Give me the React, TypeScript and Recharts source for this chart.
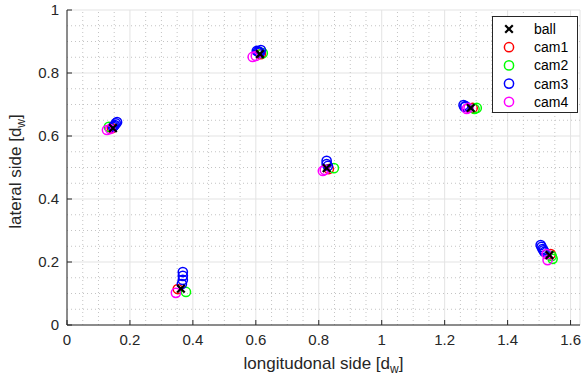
import React from "react"
import { ScatterChart, Scatter, XAxis, YAxis, CartesianGrid, ReferenceLine, Legend } from "recharts"

// positions in units of d_w
const ball = [
  { x: 0.146, y: 0.625 },
  { x: 0.613, y: 0.86 },
  { x: 0.362, y: 0.115 },
  { x: 0.825, y: 0.498 },
  { x: 1.283, y: 0.689 },
  { x: 1.533, y: 0.222 },
]

const cam1 = [
  { x: 0.143, y: 0.625 },
  { x: 0.616, y: 0.86 },
  { x: 0.352, y: 0.114 },
  { x: 0.832, y: 0.495 },
  { x: 1.289, y: 0.689 },
  { x: 1.537, y: 0.225 },
]

const cam2 = [
  { x: 0.133, y: 0.629 },
  { x: 0.622, y: 0.863 },
  { x: 0.378, y: 0.105 },
  { x: 0.848, y: 0.498 },
  { x: 1.302, y: 0.689 },
  { x: 1.295, y: 0.686 },
  { x: 1.54, y: 0.219 },
  { x: 1.543, y: 0.21 },
]

const cam3 = [
  { x: 0.159, y: 0.644 },
  { x: 0.155, y: 0.64 },
  { x: 0.152, y: 0.635 },
  { x: 0.149, y: 0.632 },
  { x: 0.146, y: 0.629 },
  { x: 0.603, y: 0.87 },
  { x: 0.607, y: 0.869 },
  { x: 0.616, y: 0.873 },
  { x: 0.613, y: 0.865 },
  { x: 0.61, y: 0.867 },
  { x: 0.368, y: 0.168 },
  { x: 0.368, y: 0.156 },
  { x: 0.368, y: 0.143 },
  { x: 0.365, y: 0.13 },
  { x: 0.825, y: 0.521 },
  { x: 0.825, y: 0.511 },
  { x: 0.829, y: 0.505 },
  { x: 1.26, y: 0.698 },
  { x: 1.263, y: 0.692 },
  { x: 1.266, y: 0.695 },
  { x: 1.505, y: 0.254 },
  { x: 1.508, y: 0.248 },
  { x: 1.511, y: 0.241 },
  { x: 1.514, y: 0.237 },
  { x: 1.517, y: 0.232 },
]

const cam4 = [
  { x: 0.127, y: 0.619 },
  { x: 0.137, y: 0.622 },
  { x: 0.59, y: 0.851 },
  { x: 0.6, y: 0.854 },
  { x: 0.346, y: 0.102 },
  { x: 0.813, y: 0.489 },
  { x: 0.819, y: 0.492 },
  { x: 1.27, y: 0.686 },
  { x: 1.276, y: 0.689 },
  { x: 1.524, y: 0.225 },
  { x: 1.527, y: 0.206 },
]

const xTicks = [0, 0.2, 0.4, 0.6, 0.8, 1, 1.2, 1.4, 1.6]
const yTicks = [0, 0.2, 0.4, 0.6, 0.8, 1]
const xMinor = [0.05, 0.1, 0.15, 0.25, 0.3, 0.35, 0.45, 0.5, 0.55, 0.65, 0.7, 0.75, 0.85, 0.9, 0.95, 1.05, 1.1, 1.15, 1.25, 1.3, 1.35, 1.45, 1.5, 1.55]
const yMinor = [0.05, 0.1, 0.15, 0.25, 0.3, 0.35, 0.45, 0.5, 0.55, 0.65, 0.7, 0.75, 0.85, 0.9, 0.95]

const FONT = "'Liberation Sans', Arial, sans-serif"
const INK = "#262626"

const cams = [
  { name: "cam1", data: cam1, color: "#ff0000" },
  { name: "cam2", data: cam2, color: "#00ff00" },
  { name: "cam3", data: cam3, color: "#0000ff" },
  { name: "cam4", data: cam4, color: "#ff00ff" },
]

const ring = (color: string) => (p: any) => (
  <circle cx={p.cx} cy={p.cy} r={4.6} fill="none" stroke={color} strokeWidth={1.5} />
)

const cross = (p: any) => (
  <g stroke="#000" strokeWidth={2.2}>
    <line x1={p.cx - 3.8} y1={p.cy - 3.8} x2={p.cx + 3.8} y2={p.cy + 3.8} />
    <line x1={p.cx - 3.8} y1={p.cy + 3.8} x2={p.cx + 3.8} y2={p.cy - 3.8} />
  </g>
)

function LegendBox() {
  const rows = [{ name: "ball", color: "#000" }, ...cams]
  return (
    <div style={{ border: `1px solid ${INK}`, background: "#fff", width: 86, height: 97, boxSizing: "border-box" }}>
      <svg width={84} height={95}>
        {rows.map((r, i) => {
          const cy = 12 + i * 18.2
          return (
            <g key={r.name}>
              {r.name === "ball" ? cross({ cx: 16, cy }) : ring(r.color)({ cx: 16, cy })}
              <text x={41} y={cy + 5} fontSize={14} fill="#000" fontFamily={FONT}>
                {r.name}
              </text>
            </g>
          )
        })}
      </svg>
    </div>
  )
}

const xLabel = (p: any) => {
  const vb = p.viewBox
  return (
    <text x={vb.x + vb.width / 2} y={vb.y + 44} textAnchor="middle" fontSize={17} fill={INK} fontFamily={FONT}>
      longitudonal side [d<tspan dy={4} fontSize={12}>w</tspan><tspan dy={-4}>]</tspan>
    </text>
  )
}

const yLabel = (p: any) => {
  const vb = p.viewBox
  const cx = vb.x + 21
  const cy = vb.y + vb.height / 2 + 4
  return (
    <text x={cx} y={cy} transform={`rotate(-90 ${cx} ${cy})`} textAnchor="middle" fontSize={17} fill={INK} fontFamily={FONT}>
      lateral side [d<tspan dy={4} fontSize={12}>w</tspan><tspan dy={-4}>]</tspan>
    </text>
  )
}

export default function App() {
  const tickStyle = { fill: INK, fontSize: 15, fontFamily: FONT }
  return (
    <div style={{ position: "absolute", left: 0, top: 0, background: "#fff" }}>
      <ScatterChart width={583} height={380} margin={{ top: 10, right: 3, bottom: 0, left: 0 }}>
        <CartesianGrid stroke="#e3e3e3" strokeWidth={1} xAxisId="b" yAxisId="l" />
        {xMinor.map((v) => (
          <ReferenceLine key={`vx${v}`} x={v} xAxisId="b" yAxisId="l" stroke="#c4c4c4" strokeDasharray="1 3" />
        ))}
        {yMinor.map((v) => (
          <ReferenceLine key={`hy${v}`} y={v} xAxisId="b" yAxisId="l" stroke="#c4c4c4" strokeDasharray="1 3" />
        ))}
        <XAxis
          xAxisId="b"
          type="number"
          dataKey="x"
          domain={[0, 1.63]}
          allowDataOverflow
          ticks={xTicks}
          interval={0}
          height={55}
          stroke={INK}
          tickSize={-5}
          tickMargin={14}
          tick={tickStyle}
          label={{ content: xLabel }}
        />
        <XAxis
          xAxisId="t"
          orientation="top"
          type="number"
          domain={[0, 1.63]}
          allowDataOverflow
          ticks={xTicks}
          interval={0}
          height={0}
          stroke={INK}
          tickSize={-5}
          tickFormatter={() => ""}
        />
        <YAxis
          yAxisId="l"
          type="number"
          dataKey="y"
          domain={[0, 1]}
          allowDataOverflow
          ticks={yTicks}
          interval={0}
          width={67}
          stroke={INK}
          tickSize={-5}
          tickMargin={13}
          tick={tickStyle}
          label={{ content: yLabel }}
        />
        <YAxis
          yAxisId="r"
          orientation="right"
          type="number"
          domain={[0, 1]}
          allowDataOverflow
          ticks={yTicks}
          interval={0}
          width={0}
          stroke={INK}
          tickSize={-5}
          tickFormatter={() => ""}
        />
        {cams.map((c) => (
          <Scatter
            key={c.name}
            name={c.name}
            data={c.data}
            xAxisId="b"
            yAxisId="l"
            shape={ring(c.color)}
            isAnimationActive={false}
          />
        ))}
        <Scatter name="ball" data={ball} xAxisId="b" yAxisId="l" shape={cross} isAnimationActive={false} />
        <Legend
          layout="horizontal"
          verticalAlign="middle"
          align="center"
          wrapperStyle={{ top: 16, left: 492, width: 86, height: 97 }}
          content={() => <LegendBox />}
        />
      </ScatterChart>
    </div>
  )
}
